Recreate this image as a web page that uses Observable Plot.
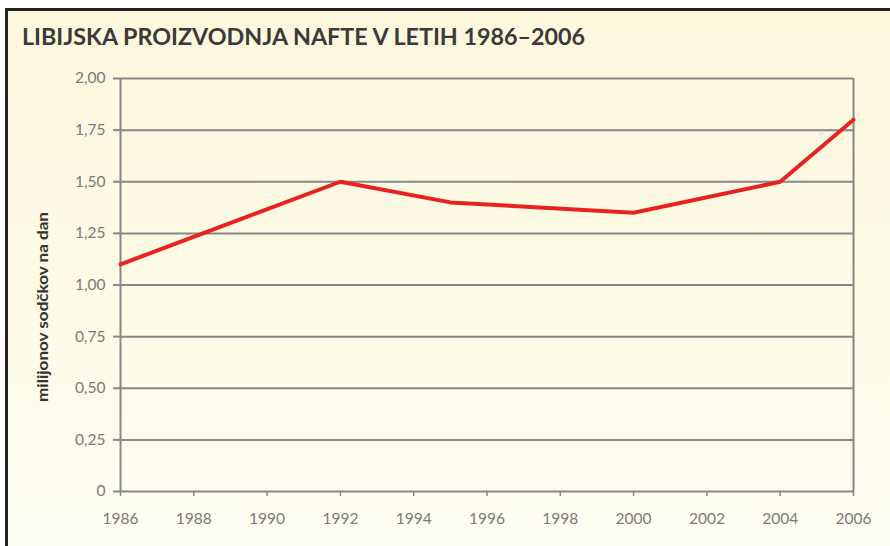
<!DOCTYPE html>
<html>
<head>
<meta charset="utf-8">
<script src="https://cdn.jsdelivr.net/npm/d3@7"></script>
<script src="https://cdn.jsdelivr.net/npm/@observablehq/plot@0.6"></script>
<style>
  html, body { margin: 0; padding: 0; background: #ffffff; }
  #wrap { position: relative; width: 890px; height: 546px; overflow: hidden; background: #ffffff; }
  #frame { position: absolute; left: 5px; top: 8px; width: 885px; height: 538px;
    border-top: 3px solid #222; border-left: 3px solid #222; box-sizing: border-box;
    background: linear-gradient(to bottom, #fdf8dc 0%, #fdfae6 50%, #fefdf4 100%); }
  #title { position: absolute; left: 22px; top: 22px; margin: 0; font-family: Lato, sans-serif;
    font-weight: 700; font-size: 23px; color: #3a3a3a; white-space: nowrap; transform-origin: 0 0; }
  #ylabel { position: absolute; left: 42px; top: 307px; font-family: Lato, sans-serif; font-weight: 700;
    font-size: 15px; color: #333; white-space: nowrap; }
  #chart { position: absolute; left: 0; top: 0; }
</style>
</head>
<body>
<div id="wrap">
  <div id="frame"></div>
  <div id="title"></div>
  <div id="ylabel"></div>
  <div id="chart"></div>
</div>
<script>
const titleText = "LIBIJSKA PROIZVODNJA NAFTE V LETIH 1986–2006";
const yLabelText = "milijonov sodčkov na dan";
const years = [1986, 1992, 1995, 2000, 2004, 2006];
const production = [1.10, 1.50, 1.40, 1.35, 1.50, 1.80];
const xTicks = [1986, 1988, 1990, 1992, 1994, 1996, 1998, 2000, 2002, 2004, 2006];
const yTicks = [0, 0.25, 0.5, 0.75, 1.0, 1.25, 1.5, 1.75, 2.0];

const data = years.map((year, i) => ({year, value: production[i]}));
const yFmt = d => d === 0 ? "0" : d.toFixed(2).replace(".", ",");

document.getElementById("title").textContent = titleText;
const yl = document.getElementById("ylabel");
yl.textContent = yLabelText;
// fit title width to reference
const t = document.getElementById("title");
const w = t.getBoundingClientRect().width;
t.style.transform = `scaleX(${563 / w})`;
const yw = yl.getBoundingClientRect().width;
yl.style.transform = `translate(-50%, -50%) rotate(-90deg) scaleX(${190 / yw})`;

const grid = "#878787";
const chart = Plot.plot({
  width: 890,
  height: 546,
  marginLeft: 120,
  marginRight: 37,
  marginTop: 78,
  marginBottom: 55,
  style: {background: "transparent", fontFamily: "Lato, sans-serif", fontSize: "15.5px", color: "#7a7a7a", overflow: "visible"},
  x: {domain: [1986, 2006]},
  y: {domain: [0, 2]},
  marks: [
    Plot.ruleY(yTicks.filter(d => d > 0), {stroke: grid, strokeWidth: 2}),
    Plot.ruleX([xTicks[xTicks.length - 1]], {stroke: grid, strokeWidth: 2}),
    Plot.axisY({ticks: yTicks, tickFormat: yFmt, tickSize: 7, tickPadding: 8, label: null, stroke: grid, strokeWidth: 2, fill: "#7a7a7a"}),
    Plot.axisX({ticks: xTicks, tickFormat: d => String(d), tickSize: 5, tickPadding: 16, label: null, stroke: grid, strokeWidth: 1.5, fill: "#7a7a7a"}),
    Plot.ruleY([0], {stroke: grid, strokeWidth: 2}),
    Plot.ruleX([xTicks[0]], {stroke: grid, strokeWidth: 2}),
    Plot.line(data, {x: "year", y: "value", stroke: "#e8231f", strokeWidth: 4, strokeLinejoin: "miter"})
  ]
});
document.getElementById("chart").appendChild(chart);
</script>
</body>
</html>
